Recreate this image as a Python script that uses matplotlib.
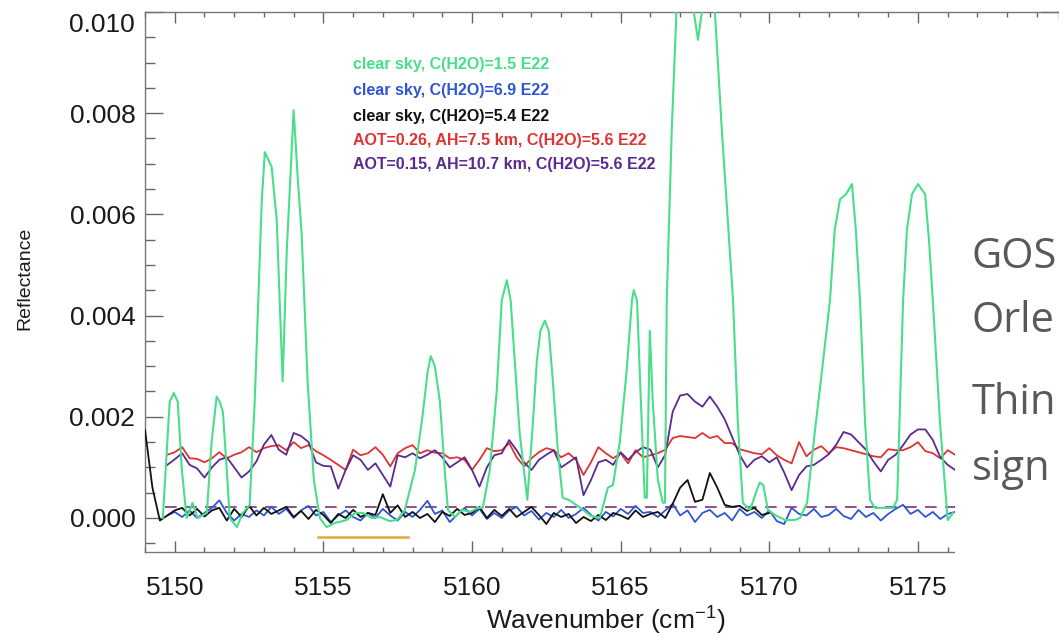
import numpy as np
import matplotlib
matplotlib.use('Agg')
import matplotlib.pyplot as plt
from matplotlib.ticker import MultipleLocator
from matplotlib.patches import Rectangle

plt.rcParams['font.family'] = ['Liberation Sans', 'DejaVu Sans']

# ---- data (reflectance in units of 1e-4) ----
# noisy spectra sampled every 0.25 cm-1, first point at 5149.75
grid_start = 5149.75
grid_step = 0.25

red_e4 = [12.5,
    13.0, 14.0, 11.8, 11.7,    # 5150
    11.0, 11.8, 13.0, 11.8,    # 5151
    12.5, 13.0, 14.0, 13.0,    # 5152
    13.8, 14.2, 14.4, 13.4,    # 5153
    15.0, 13.8, 14.4, 13.2,    # 5154
    12.4, 11.5, 10.5, 9.5,     # 5155
    13.5, 12.4, 12.8, 14.0,    # 5156
    12.5, 10.2, 12.8, 13.8,    # 5157
    14.4, 12.8, 13.4, 12.9,    # 5158
    12.8, 11.8, 12.0, 11.5,    # 5159
    9.5, 11.5, 13.8, 13.2,     # 5160
    13.4, 14.8, 12.0, 10.2,    # 5161
    11.8, 13.0, 13.8, 13.4,    # 5162
    12.0, 12.8, 11.5, 8.5,     # 5163
    11.0, 14.0, 12.8, 11.8,    # 5164
    12.8, 10.8, 13.4, 12.0,    # 5165
    12.4, 12.8, 13.5, 15.8,    # 5166
    16.2, 16.0, 15.8, 16.8,    # 5167
    15.8, 16.2, 14.8, 14.8,    # 5168
    13.6, 13.2, 12.8, 12.6,    # 5169
    13.8, 12.4, 11.5, 10.8,    # 5170
    15.0, 12.2, 13.5, 14.2,    # 5171
    12.8, 14.0, 13.8, 13.4,    # 5172
    13.0, 12.6, 12.2, 12.0,    # 5173
    13.6, 13.4, 13.4, 14.0,    # 5174
    15.0, 13.2, 12.8, 11.8,    # 5175
    13.4, 12.5]                # 5176

purple_e4 = [10.5,
    11.6, 12.8, 10.5, 9.8,     # 5150
    8.0, 10.0, 11.5, 12.0,     # 5151
    10.0, 8.0, 9.2, 11.2,      # 5152
    14.5, 16.4, 13.5, 12.5,    # 5153
    16.8, 16.2, 15.0, 11.0,    # 5154
    10.3, 10.2, 5.8, 9.5,      # 5155
    12.4, 11.5, 9.5, 10.8,     # 5156
    8.5, 6.2, 12.4, 12.0,      # 5157
    12.8, 11.8, 12.5, 13.4,    # 5158
    12.0, 10.0, 11.0, 12.0,    # 5159
    9.5, 6.2, 10.0, 12.4,      # 5160
    12.8, 15.4, 13.4, 11.0,    # 5161
    9.5, 11.5, 12.5, 13.4,     # 5162
    10.0, 11.0, 12.0, 4.5,     # 5163
    7.5, 11.0, 11.5, 10.5,     # 5164
    13.0, 11.5, 13.0, 14.0,    # 5165
    13.5, 10.0, 12.5, 21.0,    # 5166
    24.2, 24.5, 23.0, 22.0,    # 5167
    24.0, 22.0, 19.5, 16.0,    # 5168
    12.5, 10.0, 11.5, 12.2,    # 5169
    11.0, 12.0, 9.0, 5.5,      # 5170
    8.5, 10.2, 10.5, 11.5,     # 5171
    12.6, 14.5, 17.0, 16.5,    # 5172
    15.0, 13.5, 11.2, 9.2,     # 5173
    11.5, 12.5, 14.4, 16.5,    # 5174
    17.5, 17.5, 15.4, 12.0,    # 5175
    10.5, 9.5]                 # 5176

blue_e4 = [0.5,
    1.2, 0.2, 1.5, 0.0,        # 5150
    1.0, 2.0, 3.5, 1.0,        # 5151
    -0.5, 0.8, 0.2, 1.5,       # 5152
    0.5, 2.2, 0.8, 1.8,        # 5153
    0.0, 1.5, 2.4, 0.5,        # 5154
    1.2, -0.8, 0.5, 1.5,       # 5155
    0.2, -0.5, 1.0, 0.0,       # 5156
    1.8, 0.5, -0.5, 1.2,       # 5157
    0.2, 1.6, 3.4, 0.8,        # 5158
    1.5, -0.8, 0.6, 2.0,       # 5159
    0.5, 1.8, -0.2, 1.0,       # 5160
    0.0, 1.5, 2.2, 0.5,        # 5161
    1.4, -0.3, 1.0, 0.2,       # 5162
    1.6, 0.0, 0.8, 2.0,        # 5163
    0.6, -0.5, 1.2, 0.3,       # 5164
    1.8, 0.8, 2.4, 1.0,        # 5165
    1.2, 0.2, 1.5, 2.8,        # 5166
    0.5, 1.5, -0.8, 1.0,       # 5167
    1.6, 0.2, 1.0, -0.5,       # 5168
    1.8, 0.5, 1.2, 0.0,        # 5169
    1.5, -0.6, -1.2, 2.0,      # 5170
    0.8, 0.5, 1.8, 0.2,        # 5171
    0.6, 1.8, 0.4, -0.2,       # 5172
    1.6, 0.2, 1.0, -0.5,       # 5173
    0.8, 1.8, 2.6, 0.8,        # 5174
    1.6, 0.2, 1.2, -0.2,       # 5175
    0.8, 1.2]                  # 5176

# black starts at the left edge of the plot (5149.0) and stops near 5170
black_start = 5149.0
black_e4 = [17.4, 6.0, -0.5, 0.5,    # 5149
    1.5, 2.0, 0.5, 1.8,        # 5150
    0.3, 1.5, 2.0, -0.5,       # 5151
    1.8, 0.2, 2.4, 0.5,        # 5152
    2.0, 0.8, 1.5, 2.2,        # 5153
    0.2, 1.4, -0.2, 1.6,       # 5154
    0.6, -1.0, 0.8, 0.0,       # 5155
    1.6, 0.2, 1.0, 0.6,        # 5156
    4.7, 1.0, 2.5, 0.2,        # 5157
    1.2, 0.0, 0.8, -0.8,       # 5158
    1.2, 0.4, 1.8, 0.6,        # 5159
    1.0, 2.2, 0.0, 1.6,        # 5160
    0.4, 1.8, 0.2, 1.2,        # 5161
    2.2, 0.6, -1.2, 1.0,       # 5162
    0.2, 0.8, -1.0, 0.2,       # 5163
    -0.6, 0.6, -0.4, 1.0,      # 5164
    0.5, -0.2, 1.5, 0.2,       # 5165
    0.8, 1.2, 0.0, 2.8,        # 5166
    6.0, 7.5, 3.2, 3.6,        # 5167
    8.9, 6.0, 2.6, 2.2,        # 5168
    2.4, 1.4, 2.0, 0.6,        # 5169
    1.0]                       # 5170

# clear sky, low water: strong lines, own (irregular) sampling
green_wn = [5149.60, 5149.83, 5149.97, 5150.10, 5150.24, 5150.40, 5150.60, 5150.77,
            5151.08, 5151.24, 5151.41, 5151.51, 5151.62, 5151.75, 5151.85, 5152.09,
            5152.29, 5152.52, 5152.69, 5152.93, 5153.03, 5153.26, 5153.43, 5153.53,
            5153.63, 5153.77, 5154.00, 5154.14, 5154.27, 5154.47, 5154.68, 5154.88,
            5155.11, 5155.38, 5155.79, 5156.06, 5156.33, 5156.63, 5156.90, 5157.23,
            5157.47, 5157.67, 5157.74, 5158.08, 5158.31, 5158.51, 5158.61, 5158.75,
            5158.92, 5159.08, 5159.19, 5159.42, 5159.66, 5159.93, 5160.20, 5160.36,
            5160.60, 5160.83, 5161.00, 5161.17, 5161.30, 5161.44, 5161.60, 5161.86,
            5162.05, 5162.18, 5162.30, 5162.45, 5162.58, 5162.72, 5162.89, 5163.05,
            5163.25, 5163.60, 5164.00, 5164.30, 5164.57, 5164.74, 5164.97, 5165.20,
            5165.38, 5165.44, 5165.55, 5165.68, 5165.81, 5165.88, 5165.98, 5166.08,
            5166.25, 5166.42, 5166.49, 5166.55, 5166.72, 5166.89, 5167.10, 5167.33,
            5167.46, 5167.60, 5167.73, 5167.90, 5168.06, 5168.17, 5168.40, 5168.60,
            5168.78, 5168.94, 5169.11, 5169.35, 5169.58, 5169.68, 5169.80, 5169.95,
            5170.19, 5170.53, 5170.86, 5171.03, 5171.27, 5171.53, 5171.77, 5172.04,
            5172.20, 5172.38, 5172.58, 5172.78, 5172.91, 5173.05, 5173.22, 5173.39,
            5173.55, 5173.89, 5174.16, 5174.30, 5174.50, 5174.63, 5174.80, 5175.00,
            5175.24, 5175.37, 5175.50, 5175.74, 5176.00, 5176.18]
green_e4 = [0.0, 23.0, 24.7, 23.0, 9.5, 0.0, 3.0, 0.0,
            1.0, 15.0, 24.0, 23.0, 21.0, 9.5, 0.0, -1.8,
            1.0, 2.6, 23.0, 63.0, 72.3, 69.4, 59.0, 43.0,
            27.0, 53.0, 80.6, 67.0, 56.0, 27.0, 7.5, 0.0,
            -1.8, -1.0, -0.4, 1.0, 1.0, 0.0, 0.2, -0.6,
            -0.4, 1.0, 1.6, 9.5, 19.0, 29.0, 32.0, 30.0,
            23.0, 9.5, 1.6, 0.2, 1.6, 1.2, 2.0, 2.0,
            9.5, 25.0, 43.0, 47.0, 43.0, 31.0, 17.0, 3.6,
            19.0, 31.0, 37.0, 39.0, 37.0, 27.0, 13.0, 4.0,
            3.6, 2.2, 0.4, 0.0, 6.0, 6.5, 15.0, 29.0,
            43.0, 45.0, 43.0, 23.0, 4.0, 4.0, 37.0, 23.0,
            7.5, 3.0, 3.0, 43.0, 77.0, 102.0, 108.0, 108.0,
            100.0, 94.5, 100.0, 107.0, 106.0, 100.0, 77.0, 59.0,
            43.0, 19.0, 3.0, 1.6, 5.5, 7.0, 6.5, 1.6,
            0.6, -0.4, -0.4, 0.0, 3.0, 17.0, 29.0, 43.0,
            57.0, 63.0, 64.0, 66.0, 57.0, 43.0, 19.0, 3.6,
            2.0, 2.0, 2.0, 3.6, 43.0, 57.0, 64.0, 66.0,
            64.0, 55.0, 43.0, 19.0, -0.4, 1.0]

# dashed reference level and orange bar under the plot
dash_level = 0.00022
dash_span = [5149.67, 5176.3]
bar_level = -0.00038
bar_span = [5154.83, 5157.84]

legend_labels = ['clear sky, C(H2O)=1.5 E22',
                 'clear sky, C(H2O)=6.9 E22',
                 'clear sky, C(H2O)=5.4 E22',
                 'AOT=0.26, AH=7.5 km, C(H2O)=5.6 E22',
                 'AOT=0.15, AH=10.7 km, C(H2O)=5.6 E22']
side_text = ['GOS', 'Orle', 'Thin', 'sign']

c_green = '#48de8c'
c_blue = '#2f55d4'
c_black = '#111111'
c_red = '#e03232'
c_purple = '#5a2a8e'
legend_colors = [c_green, c_blue, c_black, c_red, c_purple]

# ---- figure ----
W, H = 1059, 636
fig = plt.figure(figsize=(W / 100., H / 100.), dpi=100)

def fx(px):
    return px / float(W)

def fy(py):
    return 1 - py / float(H)

ax = fig.add_axes([fx(145), fy(552), fx(W - 145), (552 - 12) / float(H)])

wn = grid_start + grid_step * np.arange(len(red_e4))
wn_black = black_start + grid_step * np.arange(len(black_e4))
s = 1e-4

lw = 1.3
ax.plot(dash_span, [dash_level, dash_level], color='#7a3478', lw=1.2,
        dashes=(7, 5), zorder=1)
ax.plot(wn, np.array(red_e4) * s, color=c_red, lw=lw, zorder=2)
ax.plot(wn, np.array(purple_e4) * s, color=c_purple, lw=lw, zorder=3)
ax.plot(wn, np.array(blue_e4) * s, color=c_blue, lw=lw, zorder=2)
ax.plot(wn_black, np.array(black_e4) * s, color=c_black, lw=lw, zorder=3)
ax.plot(green_wn, np.array(green_e4) * s, color=c_green, lw=1.5, zorder=4)
ax.plot(bar_span, [bar_level, bar_level], color='#e8a53a', lw=1.8, zorder=4)

ax.set_xlim(5149.0, 5150 + (W - 175) / 29.72)
ax.set_ylim(-0.000672, 0.0100)

ax.set_xticks([5150, 5155, 5160, 5165, 5170, 5175])
ax.xaxis.set_minor_locator(MultipleLocator(1))
ax.set_yticks([0.0, 0.002, 0.004, 0.006, 0.008, 0.010])
ax.set_yticklabels(['0.000', '0.002', '0.004', '0.006', '0.008', ''])
ax.yaxis.set_minor_locator(MultipleLocator(0.0005))

ax.tick_params(axis='both', which='both', direction='in', top=True, right=True,
               colors='#666666', labelcolor='#1a1a1a', width=1.0)
ax.tick_params(axis='x', which='major', length=8, pad=17, labelsize=19)
ax.tick_params(axis='x', which='minor', length=3.8)
ax.tick_params(axis='y', which='major', length=13, pad=7, labelsize=19)
ax.tick_params(axis='y', which='minor', length=7)
for sp in ax.spines.values():
    sp.set_color('#777777')
    sp.set_linewidth(1.0)

# top label sits a bit lower than its tick, as in the slide
ax.text(-10.0 / (W - 145), 1 - 13.0 / 540, '0.010', transform=ax.transAxes,
        ha='right', va='center', fontsize=19, color='#1a1a1a')

fig.text(fx(25), fy(278), 'Reflectance', rotation=90, ha='center', va='center',
         fontsize=14, color='#1a1a1a')
fig.text(fx(606), fy(620), 'Wavenumber (cm$^{\\mathregular{-1}}$)', ha='center',
         va='center', fontsize=19, color='#1a1a1a')

legend_y = [65, 90, 116, 141, 165]
for lab, col, yy in zip(legend_labels, legend_colors, legend_y):
    fig.text(fx(353), fy(yy), lab, color=col, fontsize=11.5, fontweight='bold',
             ha='left', va='center')

# slide overlay covering the right end of the plot
fig.patches.append(Rectangle((fx(955), 0), 1 - fx(955), fy(20), transform=fig.transFigure,
                             facecolor='white', edgecolor='none', zorder=5))
side_y = [268, 332, 414, 480]
for t, yy in zip(side_text, side_y):
    fig.text(fx(972), fy(yy), t, fontsize=30, color='#595959', ha='left',
             va='baseline', family=['Open Sans', 'DejaVu Sans'], zorder=6)

fig.savefig('out.png', dpi=100)
